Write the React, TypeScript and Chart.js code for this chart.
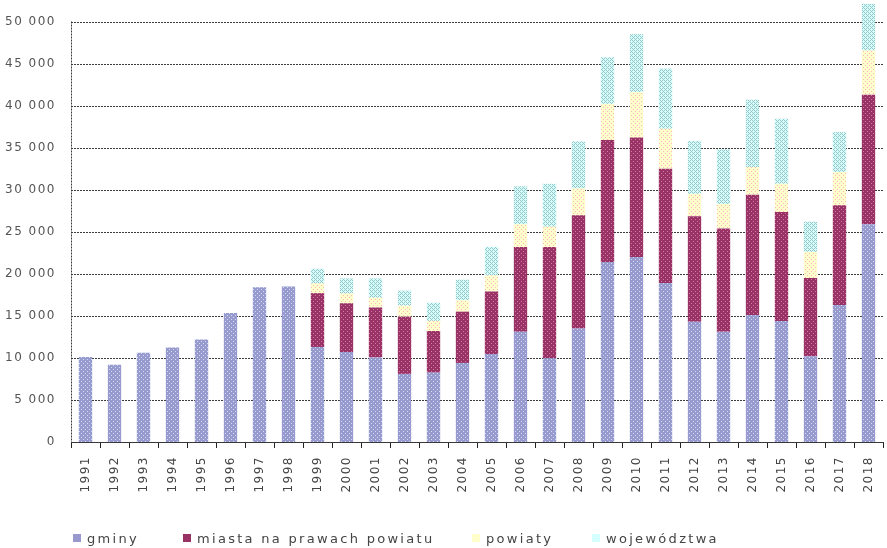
import React, { useEffect, useRef } from "react";
import { Chart, registerables } from "chart.js";

Chart.register(...registerables);

const years = [
  "1991", "1992", "1993", "1994", "1995", "1996", "1997", "1998", "1999", "2000",
  "2001", "2002", "2003", "2004", "2005", "2006", "2007", "2008", "2009", "2010",
  "2011", "2012", "2013", "2014", "2015", "2016", "2017", "2018",
];

const gminy = [
  10100, 9200, 10600, 11250, 12200, 15350, 18400, 18500, 11300, 10700,
  10050, 8100, 8250, 9400, 10450, 13100, 9950, 13500, 21400, 22000,
  18900, 14300, 13100, 15100, 14400, 10200, 16300, 25900,
];

const miasta = [
  null, null, null, null, null, null, null, null, 6400, 5800,
  5950, 6800, 4950, 6100, 7450, 10100, 13250, 13450, 14500, 14200,
  13600, 12550, 12300, 14300, 12950, 9300, 11850, 15400,
];

const powiaty = [
  null, null, null, null, null, null, null, null, 1150, 1150,
  1150, 1300, 1200, 1350, 1900, 2700, 2400, 3200, 4300, 5400,
  4750, 2650, 2900, 3300, 3350, 3100, 3950, 5250,
];

const wojewodztwa = [
  null, null, null, null, null, null, null, null, 1750, 1800,
  2300, 1800, 2150, 2450, 3400, 4500, 5100, 5600, 5550, 6900,
  7150, 6300, 6500, 8000, 7750, 3600, 4750, 5550,
];

const yTicks = [0, 5000, 10000, 15000, 20000, 25000, 30000, 35000, 40000, 45000, 50000];

const seriesNames = ["gminy", "miasta na prawach powiatu", "powiaty", "województwa"];

const baseColors = ["#9999d0", "#993366", "#ffffcc", "#d4ffff"];
const dotColors = ["#c4e6ee", "#d77aa6", "#ffb4c4", "#9cc4c4"];

function makePattern(base: string, dot: string, cross: boolean): CanvasPattern | string {
  const c = document.createElement("canvas");
  c.width = 4;
  c.height = 4;
  const g = c.getContext("2d");
  if (!g) return base;
  g.fillStyle = base;
  g.fillRect(0, 0, 4, 4);
  g.fillStyle = dot;
  if (cross) {
    g.fillRect(0, 0, 1, 1);
    g.fillRect(2, 0, 1, 1);
    g.fillRect(1, 1, 1, 1);
    g.fillRect(0, 2, 1, 1);
    g.fillRect(2, 2, 1, 1);
    g.fillRect(3, 3, 1, 1);
  } else {
    g.fillRect(1, 1, 1, 1);
    g.fillRect(3, 3, 1, 1);
  }
  const p = g.createPattern(c, "repeat");
  return p || base;
}

const fmt = (v: number) => {
  if (v === 0) return "0";
  const s = String(v);
  return s.slice(0, s.length - 3) + " " + s.slice(s.length - 3);
};

const legendX = [73, 183, 472, 592];

export default function App() {
  const ref = useRef<HTMLCanvasElement | null>(null);

  useEffect(() => {
    if (!ref.current) return;
    const patterns = baseColors.map((b, i) => makePattern(b, dotColors[i], i === 3));
    const spacing = {
      id: "letterSpacing",
      beforeLayout(chart: any) {
        chart.ctx.letterSpacing = "1.5px";
      },
      beforeDraw(chart: any) {
        chart.ctx.letterSpacing = "1.5px";
      },
    };
    const gridLines = {
      id: "dashedGrid",
      beforeDatasetsDraw(chart: any) {
        const { ctx, chartArea } = chart;
        const ys = chart.scales.y;
        ctx.save();
        ctx.strokeStyle = "#3a3a3a";
        ctx.lineWidth = 1;
        ctx.setLineDash([2, 1]);
        ctx.beginPath();
        yTicks.forEach((v) => {
          const py = Math.round(ys.getPixelForValue(v)) + 0.5;
          ctx.moveTo(chartArea.left, py);
          ctx.lineTo(chartArea.right, py);
        });
        const px = Math.round(chartArea.left) + 0.5;
        ctx.moveTo(px, ys.getPixelForValue(yTicks[yTicks.length - 1]));
        ctx.lineTo(px, chartArea.bottom);
        ctx.stroke();
        ctx.restore();
      },
    };
    const chart = new Chart(ref.current, {
      type: "bar",
      data: {
        labels: years,
        datasets: [gminy, miasta, powiaty, wojewodztwa].map((d, i) => ({
          label: seriesNames[i],
          data: d as any,
          backgroundColor: patterns[i] as any,
          borderWidth: 0,
          barPercentage: 0.46,
          categoryPercentage: 1,
        })),
      },
      options: {
        animation: false,
        responsive: false,
        layout: { padding: { top: 3, left: 0, right: 4, bottom: 0 } },
        plugins: {
          legend: { display: false },
          tooltip: { enabled: false },
        },
        scales: {
          x: {
            stacked: true,
            grid: {
              drawOnChartArea: false,
              drawTicks: true,
              tickLength: 6,
              color: "#222",
              offset: true,
            },
            border: { color: "#333", dash: [2, 1], width: 1 },
            ticks: {
              minRotation: 90,
              maxRotation: 90,
              autoSkip: false,
              padding: 8,
              color: "#444",
              font: { family: "DejaVu Sans", size: 12 },
            },
            afterFit(scale: any) {
              scale.height = 106;
              scale.paddingLeft = 0;
              scale.paddingRight = 0;
            },
          },
          y: {
            stacked: true,
            min: 0,
            max: 52200,
            afterBuildTicks(scale: any) {
              scale.ticks = yTicks.map((v) => ({ value: v }));
            },
            grid: { display: false },
            border: { display: false },
            ticks: {
              padding: 7,
              color: "#555",
              font: { family: "DejaVu Sans", size: 12 },
              callback: (v: any) => fmt(Number(v)),
            },
            afterFit(scale: any) {
              scale.width = 71;
              scale.paddingTop = 0;
              scale.paddingBottom = 0;
            },
          },
        },
      },
      plugins: [spacing, gridLines],
    } as any);
    return () => chart.destroy();
  }, []);

  return (
    <div style={{ position: "fixed", left: 0, top: 0, width: 887, height: 548, background: "#fff" }}>
      <canvas ref={ref} width={887} height={548} style={{ display: "block" }} />
      {seriesNames.map((n, i) => (
        <div
          key={n}
          style={{
            position: "absolute",
            left: legendX[i],
            top: 529,
            height: 18,
            display: "flex",
            alignItems: "center",
            fontFamily: "DejaVu Sans",
            fontSize: 13,
            letterSpacing: "2.3px",
            color: "#444",
            whiteSpace: "nowrap",
          }}
        >
          <span
            style={{
              display: "inline-block",
              width: 8,
              height: 8,
              marginRight: 6,
              background: baseColors[i],
            }}
          />
          {n}
        </div>
      ))}
    </div>
  );
}
